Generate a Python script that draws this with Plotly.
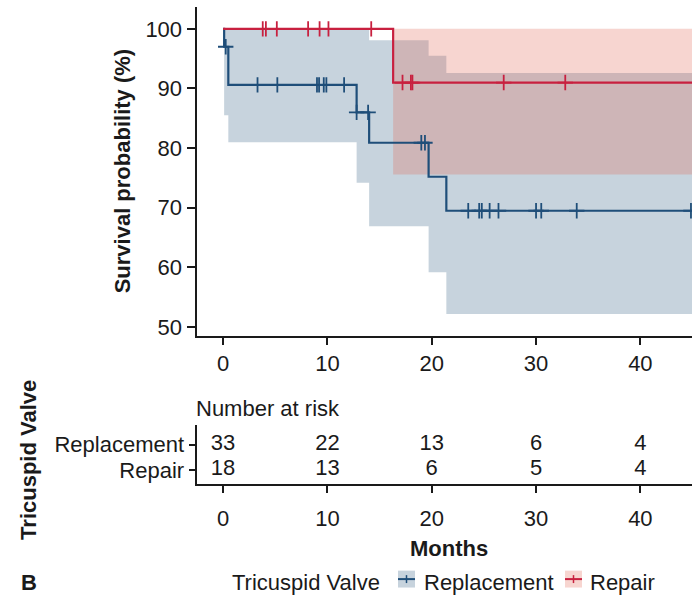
import plotly.graph_objects as go

# ---------------- data ----------------
# Replacement group (step function)
rep_t = [0, 0.1, 0.5, 12.8, 14.0, 19.7, 21.4]
rep_s = [100, 97.0, 90.6, 86.0, 80.9, 75.2, 69.5]
rep_up = [100, 100, 100, 100, 98.1, 95.5, 92.6]
rep_lo = [100, 85.5, 81.0, 74.2, 66.9, 59.2, 52.2]
rep_cens = [0.25, 3.3, 5.2, 9.0, 9.2, 9.65, 9.9, 11.6, 12.8, 13.9, 19.0, 19.35,
            23.5, 24.55, 24.8, 25.55, 26.4, 30.0, 30.5, 33.9, 44.85]

# Repair group
rep2_t = [0, 16.3]
rep2_s = [100, 91.0]
rep2_up = [100, 100]
rep2_lo = [100, 75.6]
rep2_cens = [3.8, 4.1, 5.15, 8.15, 9.25, 10.1, 14.2, 17.2, 18.0, 18.15, 26.9, 32.8]

t_end = 45

groups = ["Replacement", "Repair"]
risk_times = [0, 10, 20, 30, 40]
risk_rep = [33, 22, 13, 6, 4]
risk_rpr = [18, 13, 6, 5, 4]

x_ticks = [0, 10, 20, 30, 40]
y_ticks = [50, 60, 70, 80, 90, 100]

# ---------------- styles ----------------
BLUE = "#1f4e79"
RED = "#c8203f"
BLUE_FILL = "rgba(31,78,121,0.25)"
RED_FILL = "rgba(225,105,85,0.28)"
TXT = "#1a1a1a"
FONT = "Liberation Sans, Arial, sans-serif"
FS = 22

W, H = 692, 598


def px_y(p):
    return (H - p) / H


def px_x(p):
    return p / W


def step_at(ts, vs, t):
    v = vs[0]
    for ti, vi in zip(ts, vs):
        if t >= ti:
            v = vi
    return v


fig = go.Figure()


def add_band(ts, lo, up, fill, t0_index=0):
    xs = ts[t0_index:] + [t_end]
    lo_s = lo[t0_index:] + [lo[-1]]
    up_s = up[t0_index:] + [up[-1]]
    fig.add_trace(go.Scatter(x=xs, y=lo_s, mode="lines", line=dict(width=0, shape="hv"),
                             showlegend=False, hoverinfo="skip", xaxis="x", yaxis="y"))
    fig.add_trace(go.Scatter(x=xs, y=up_s, mode="lines", line=dict(width=0, shape="hv"),
                             fill="tonexty", fillcolor=fill, showlegend=False,
                             hoverinfo="skip", xaxis="x", yaxis="y"))


add_band(rep_t, rep_lo, rep_up, BLUE_FILL)
add_band(rep2_t, rep2_lo, rep2_up, RED_FILL, t0_index=1)

# Survival curves
for ts, ss, col in [(rep_t, rep_s, BLUE), (rep2_t, rep2_s, RED)]:
    fig.add_trace(go.Scatter(x=ts + [t_end], y=ss + [ss[-1]], mode="lines",
                             line=dict(color=col, width=2.2, shape="hv"),
                             showlegend=False, hoverinfo="skip", xaxis="x", yaxis="y"))

# Censor marks
for ts, ss, cens, col in [(rep_t, rep_s, rep_cens, BLUE), (rep2_t, rep2_s, rep2_cens, RED)]:
    fig.add_trace(go.Scatter(x=cens, y=[step_at(ts, ss, c) for c in cens], mode="markers",
                             marker=dict(symbol="cross-thin", size=11,
                                         line=dict(color=col, width=1.8)),
                             showlegend=False, hoverinfo="skip", xaxis="x", yaxis="y"))

# Risk table
fig.add_trace(go.Scatter(x=risk_times + risk_times,
                         y=[2] * len(risk_times) + [1] * len(risk_times),
                         text=[str(v) for v in risk_rep + risk_rpr], mode="text",
                         textfont=dict(size=FS, color=TXT, family=FONT),
                         showlegend=False, hoverinfo="skip", xaxis="x2", yaxis="y2"))

x0 = px_x(196.5)
xr = [-2.55, 44.95]
axis_common = dict(showline=True, linecolor="#1a1a1a", linewidth=2, ticks="outside",
                   tickcolor="#1a1a1a", tickwidth=1.6, showgrid=False, zeroline=False,
                   tickfont=dict(size=FS, color=TXT, family=FONT), fixedrange=True)

fig.update_layout(
    width=W, height=H,
    margin=dict(l=0, r=0, t=0, b=0),
    paper_bgcolor="white", plot_bgcolor="white",
    font=dict(family=FONT, size=FS, color=TXT),
    xaxis=dict(domain=[x0, 1], range=xr, tickvals=x_ticks, ticklen=7,
               anchor="y", **axis_common),
    yaxis=dict(domain=[px_y(338), px_y(7)], range=[48.55, 103.67], tickvals=y_ticks,
               ticklen=8, anchor="x", **axis_common),
    xaxis2=dict(domain=[x0, 1], range=xr, tickvals=x_ticks, ticklen=7,
                ticklabelstandoff=6, anchor="y2", **axis_common),
    yaxis2=dict(domain=[px_y(487.5), px_y(428)], range=[0.432, 2.765], tickvals=[2, 1],
                ticktext=groups, ticklen=6, anchor="x2", **axis_common),
    showlegend=False,
)

ann = dict(xref="paper", yref="paper", showarrow=False, font=dict(family=FONT, size=FS, color=TXT))
fig.add_annotation(text="<b>Survival probability (%)</b>", x=px_x(122), y=px_y(172.5),
                   textangle=-90, xanchor="center", yanchor="middle", **ann)
fig.add_annotation(text="<b>Months</b>", x=px_x(449), y=px_y(552),
                   xanchor="center", yanchor="middle", **ann)
fig.add_annotation(text="<b>Tricuspid Valve</b>", x=px_x(29), y=px_y(463),
                   textangle=-90, xanchor="center", yanchor="middle", **ann)
fig.add_annotation(text="Number at risk", x=px_x(194), y=px_y(411),
                   xanchor="left", yanchor="middle", **ann)
fig.add_annotation(text="<b>B</b>", x=px_x(19), y=px_y(586),
                   xanchor="left", yanchor="middle", **ann)

# Legend (drawn manually to match the ggplot key style)
leg_y = 583
fig.add_annotation(text="Tricuspid Valve", x=px_x(230), y=px_y(leg_y + 3),
                   xanchor="left", yanchor="middle", **ann)
for name, col, fill, kx, tx in [(groups[0], BLUE, BLUE_FILL, 398, 422),
                                (groups[1], RED, RED_FILL, 565, 588)]:
    fig.add_shape(type="rect", xref="paper", yref="paper",
                  x0=px_x(kx), x1=px_x(kx + 17), y0=px_y(leg_y + 8.5), y1=px_y(leg_y - 8.5),
                  fillcolor=fill, line=dict(width=0))
    fig.add_shape(type="line", xref="paper", yref="paper",
                  x0=px_x(kx), x1=px_x(kx + 17), y0=px_y(leg_y), y1=px_y(leg_y),
                  line=dict(color=col, width=2))
    fig.add_shape(type="line", xref="paper", yref="paper",
                  x0=px_x(kx + 8.5), x1=px_x(kx + 8.5), y0=px_y(leg_y - 4), y1=px_y(leg_y + 4),
                  line=dict(color=col, width=1.5))
    fig.add_annotation(text=name, x=px_x(tx), y=px_y(leg_y + 3),
                       xanchor="left", yanchor="middle", **ann)

fig.write_html("out.html")
